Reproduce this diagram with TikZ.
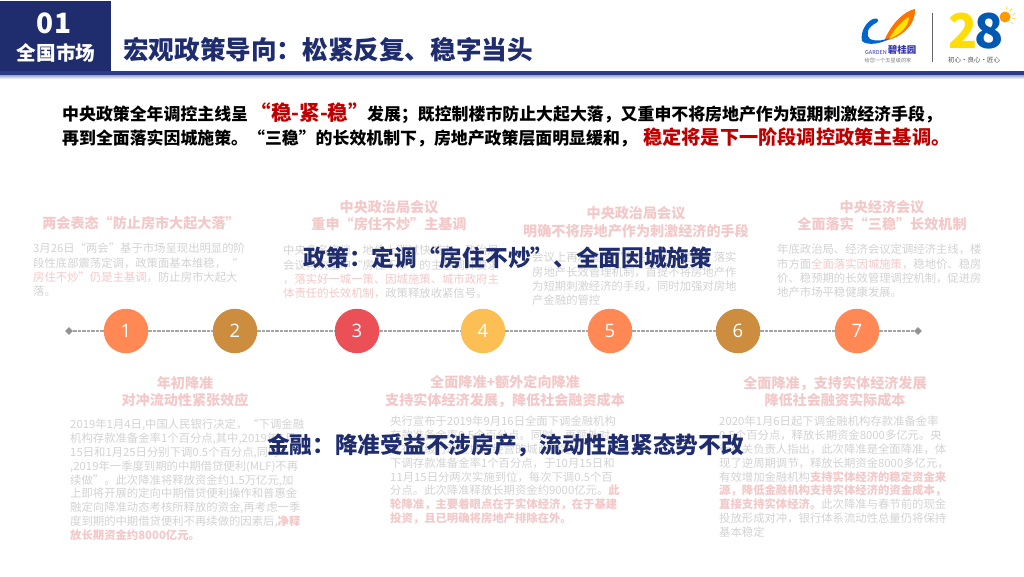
\documentclass[tikz,border=0pt]{standalone}
\usepackage{fontspec}
\usetikzlibrary{shapes.geometric}
\setmainfont{Noto Sans CJK SC}
\newfontfamily\numfont{Open Sans}
\definecolor{navy}{HTML}{1F2D6E}
\definecolor{rulenavy}{HTML}{2B3C88}
\definecolor{darkred}{HTML}{C00000}
\definecolor{fadepink}{HTML}{F3C8C8}
\definecolor{fadegray}{HTML}{D2D2D2}
\definecolor{dashgray}{HTML}{A6A6A6}
\definecolor{cOrange}{HTML}{FF8854}
\definecolor{cBrown}{HTML}{CC8D3F}
\definecolor{cRed}{HTML}{EA5056}
\definecolor{cYellow}{HTML}{FCBF53}
\newcommand{\hl}[1]{\textcolor{fadepink}{#1}}
\tikzset{
  dot/.style={circle,minimum size=44.5pt,inner sep=0,text=white,font=\numfont\fontsize{18.5}{18}\selectfont},
  endmark/.style={diamond,fill=gray!85,minimum size=8pt,inner sep=0},
  link/.style={draw=dashgray,line width=1.1pt,dash pattern=on 3.5pt off 1pt},
  heading/.style={inner sep=0,align=center,text=fadepink,font=\fontsize{14.1}{17.4}\selectfont\bfseries},
  body/.style={inner sep=0,align=left,anchor=north west,text=fadegray,font=\fontsize{11.35}{13.8}\selectfont},
  tbody/.style={body,font=\fontsize{11.35}{14.3}\selectfont},
  overlay/.style={inner sep=0,anchor=center,text=navy,font=\fontsize{22.7}{26}\selectfont\bfseries},
  intro/.style={inner sep=0,anchor=base west,font=\fontsize{16.9}{20}\selectfont\bfseries}
}
\begin{document}
\begin{tikzpicture}[x=1pt,y=-1pt]
\useasboundingbox (0,0) rectangle (1024,576);
% header
\shade[top color=rulenavy!45,bottom color=white] (0,75) rectangle (1024,79);
\fill[rulenavy] (0,71) rectangle (1024,75);
\fill[navy] (0,1) rectangle (111,71);
\node[inner sep=0,text=white,font=\fontsize{28}{28}\selectfont\bfseries] (num) at (54,23) {01};
\node[inner sep=0,text=white,font=\fontsize{19.6}{20}\selectfont\bfseries] (sec) at (56,53) {全国市场};
\node[inner sep=0,anchor=west,text=navy,font=\fontsize{25.6}{26}\selectfont\bfseries] (title) at (123,50) {宏观政策导向：松紧反复、稳字当头};
% logo
\fill[orange!90!red] (884,41) .. controls (892,22) and (905,11) .. (915,9) .. controls (916,24) and (902,38) .. (884,41);
\fill[yellow!85!orange] (889,39) .. controls (895,28) and (903,20) .. (909,17) .. controls (909,26) and (900,35) .. (889,39);
\fill[blue!50!cyan!80!black] (862,41) .. controls (860,32) and (866,22) .. (873,19) .. controls (878,17) and (880,21) .. (876,23) .. controls (868,27) and (865,34) .. (870,39) .. controls (877,42) and (884,40) .. (890,38) .. controls (882,44) and (867,46) .. (862,41);
\node[inner sep=0,text=blue!60!black!80,font=\fontsize{5.5}{6}\selectfont] (gar) at (876,52) {GARDEN};
\node[inner sep=0,text=blue!60!black!80,font=\fontsize{9.5}{10}\selectfont\bfseries] (bgy) at (902,50) {碧桂园};
\node[inner sep=0,text=gray,font=\fontsize{5.2}{6}\selectfont] (bgyt) at (888,61) {给您一个五星级的家};
\draw[gray!80!black,line width=0.8pt] (932,13) -- (932,62);
\node[inner sep=0,text=yellow!80!orange,font=\fontsize{48}{48}\selectfont\bfseries] (two) at (963,31) {2};
\node[inner sep=0,text=blue!50!cyan!70!black,font=\fontsize{48}{48}\selectfont\bfseries] (eight) at (989,31) {8};
\fill[orange!80!yellow] (1005,17) circle (5.5pt);
\foreach \a in {-80,-50,-20,10,40}{\draw[yellow!70!orange,line width=0.5pt] (1005,17) ++(\a:7.5) -- ++(\a:3.5);}
\node[inner sep=0,text=black!70,font=\fontsize{6.5}{7}\selectfont] (t28) at (974,60) {初心·良心·匠心};
% intro
\node[intro] (i1) at (62,120.5) {中央政策全年调控主线呈};
\node[intro,text=darkred,font=\fontsize{20.5}{21}\selectfont\bfseries] (i2) at (250.5,120.5) {“稳-紧-稳”};
\node[intro] (i3) at (367,120.5) {发展；既控制楼市防止大起大落，又重申不将房地产作为短期刺激经济手段，};
\node[intro] (i4) at (62,144.5) {再到全面落实因城施策。“三稳”的长效机制下，房地产政策层面明显缓和，};
\node[intro,text=darkred,font=\fontsize{19.2}{20}\selectfont\bfseries] (i5) at (643,144.5) {稳定将是下一阶段调控政策主基调。};
% top cards
\node[heading] (h1) at (141,223) {两会表态“防止房市大起大落”};
\node[tbody] (b1) at (33,243) {3月26日“两会”基于市场呈现出明显的阶\\段性底部震荡定调，政策面基本维稳，\hl{“}\\\hl{房住不炒”仍是主基调，}防止房市大起大\\落。};
\node[heading] (h3) at (389,215.5) {中央政治局会议\\重申“房住不炒”主基调};
\node[tbody] (b3) at (283,245) {中央多名座谈，地价上涨过快城市，政治局\\会议再次重申“房住不炒”的主基调并要求\\\hl{，落实好一城一策、因城施策、城市政府主}\\\hl{体责任的长效机制，}政策释放收紧信号。};
\node[heading] (h5) at (636,222) {中央政治局会议\\明确不将房地产作为刺激经济的手段};
\node[tbody] (b5) at (532,252) {会议上再次重申“房住不炒”定位，落实\\房地产长效管理机制，首提不将房地产作\\为短期刺激经济的手段，同时加强对房地\\产金融的管控};
\node[heading] (h7) at (882,215.5) {中央经济会议\\全面落实“三稳”长效机制};
\node[tbody] (b7) at (777,244) {年底政治局、经济会议定调经济主线，楼\\市方面\hl{全面落实因城施策，}稳地价、稳房\\价、稳预期的长效管理调控机制，促进房\\地产市场平稳健康发展。};
% timeline
\node[endmark] (d0) at (69,331) {};
\node[dot,fill=cOrange] (c1) at (126,331) {1};
\node[dot,fill=cBrown] (c2) at (235,331) {2};
\node[dot,fill=cRed] (c3) at (357,331) {3};
\node[dot,fill=cYellow] (c4) at (483,331) {4};
\node[dot,fill=cOrange] (c5) at (610,331) {5};
\node[dot,fill=cBrown] (c6) at (738,331) {6};
\node[dot,fill=cOrange] (c7) at (857,331) {7};
\node[endmark] (d1) at (918,331) {};
\foreach \p/\q in {d0/c1,c1/c2,c2/c3,c3/c4,c4/c5,c5/c6,c6/c7,c7/d1}{\draw[link] (\p) -- (\q);}
% bottom cards
\node[heading] (h2) at (185,391.5) {年初降准\\对冲流动性紧张效应};
\node[body] (b2) at (70,419) {2019年1月4日,中国人民银行决定，“下调金融\\机构存款准备金率1个百分点,其中,2019年1月\\15日和1月25日分别下调0.5个百分点,同时\\,2019年一季度到期的中期借贷便利(MLF)不再\\续做”。此次降准将释放资金约1.5万亿元,加\\上即将开展的定向中期借贷便利操作和普惠金\\融定向降准动态考核所释放的资金,再考虑一季\\度到期的中期借贷便利不再续做的因素后,\hl{\bfseries 净释}\\\hl{\bfseries 放长期资金约8000亿元。}};
\node[heading] (h4) at (505,391.5) {全面降准+额外定向降准\\支持实体经济发展，降低社会融资成本};
\node[body] (b4) at (390,416) {央行宣布于2019年9月16日全面下调金融机构\\存款准备金率0.5个百分点。同时，再额外对\\仅在省级行政区域内经营的城商行定向\\下调存款准备金率1个百分点，于10月15日和\\11月15日分两次实施到位，每次下调0.5个百\\分点。此次降准释放长期资金约9000亿元。\hl{\bfseries 此}\\\hl{\bfseries 轮降准，主要着眼点在于实体经济，在于基建}\\\hl{\bfseries 投资，且已明确将房地产排除在外。}};
\node[heading] (h6) at (835,391.5) {全面降准，支持实体经济发展\\降低社会融资实际成本};
\node[body] (b6) at (719,416) {2020年1月6日起下调金融机构存款准备金率\\0.5个百分点，释放长期资金8000多亿元。央\\行有关负责人指出，此次降准是全面降准，体\\现了逆周期调节，释放长期资金8000多亿元，\\有效增加金融机构\hl{\bfseries 支持实体经济的稳定资金来}\\\hl{\bfseries 源，降低金融机构支持实体经济的资金成本，}\\\hl{\bfseries 直接支持实体经济。}此次降准与春节前的现金\\投放形成对冲，银行体系流动性总量仍将保持\\基本稳定};
% overlays
\node[overlay] (o1) at (508,258) {政策：定调“房住不炒”、全面因城施策};
\node[overlay] (o2) at (505.5,445) {金融：降准受益不涉房产，流动性趋紧态势不改};
\end{tikzpicture}
\end{document}
